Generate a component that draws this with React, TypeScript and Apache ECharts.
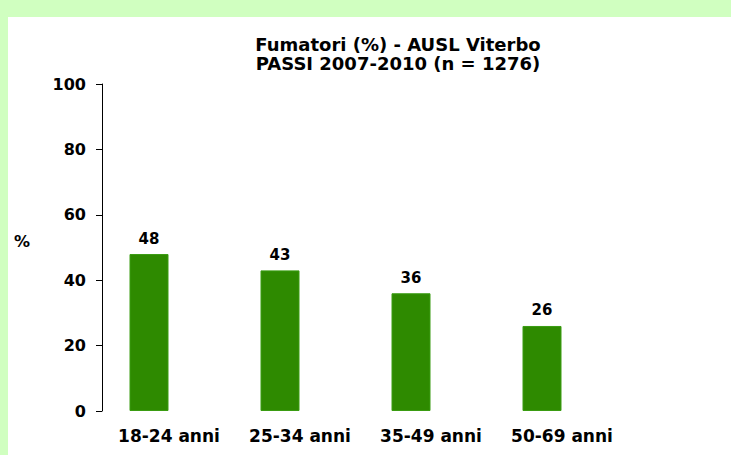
import React, { useEffect, useRef } from "react";
import * as echarts from "echarts";

const categories = ["18-24 anni", "25-34 anni", "35-49 anni", "50-69 anni"];
const values = [48, 43, 36, 26];
const titleLines = ["Fumatori (%) - AUSL Viterbo", "PASSI 2007-2010 (n = 1276)"];
const yAxisName = "%";

const FONT = "DejaVu Sans";

export default function App() {
  const ref = useRef<HTMLDivElement>(null);
  useEffect(() => {
    if (!ref.current) return;
    const chart = echarts.init(ref.current, null, { renderer: "svg" });
    chart.setOption({
      animation: false,
      backgroundColor: "#d0ffc0",
      graphic: [
        {
          type: "rect",
          z: -10,
          shape: { x: 8, y: 17, width: 731, height: 455 },
          style: { fill: "#ffffff" },
          silent: true,
        },
        {
          type: "text",
          x: 22,
          y: 241,
          style: {
            text: yAxisName,
            font: `bold 16px "${FONT}"`,
            fill: "#000",
            align: "center",
            verticalAlign: "middle",
          },
        },
      ],
      title: {
        text: titleLines.join("\n"),
        left: 393,
        top: 30,
        textAlign: "center",
        textStyle: {
          fontFamily: FONT,
          fontWeight: "bold",
          fontSize: 18,
          lineHeight: 19,
          color: "#000",
        },
      },
      grid: { left: 83.5, top: 84, width: 524, bottom: 44 },
      xAxis: {
        type: "category",
        data: categories,
        axisLine: { show: false },
        axisTick: { show: false },
        axisLabel: {
          interval: 0,
          hideOverlap: false,
          color: "#000",
          fontFamily: FONT,
          fontWeight: "bold",
          fontSize: 17,
          margin: 16,
          padding: [0, 0, 0, 40],
        },
      },
      yAxis: {
        type: "value",
        min: 0,
        max: 100,
        interval: 20,
        offset: -18.5,
        splitLine: { show: false },
        axisLine: { show: true, lineStyle: { color: "#000", width: 1 } },
        axisTick: { show: true, length: 6, lineStyle: { color: "#000" } },
        axisLabel: {
          color: "#000",
          fontFamily: FONT,
          fontWeight: "bold",
          fontSize: 16,
          margin: 16,
        },
      },
      series: [
        {
          type: "bar",
          data: values,
          barWidth: 39,
          itemStyle: { color: "#2e8a00", borderColor: "#3a9c12", borderWidth: 1 },
          label: {
            show: true,
            position: "top",
            distance: 8,
            color: "#000",
            fontFamily: FONT,
            fontWeight: "bold",
            fontSize: 15,
          },
        },
      ],
    });
    return () => chart.dispose();
  }, []);
  return (
    <div
      ref={ref}
      style={{ position: "fixed", left: 0, top: 0, width: 731, height: 455 }}
    />
  );
}
